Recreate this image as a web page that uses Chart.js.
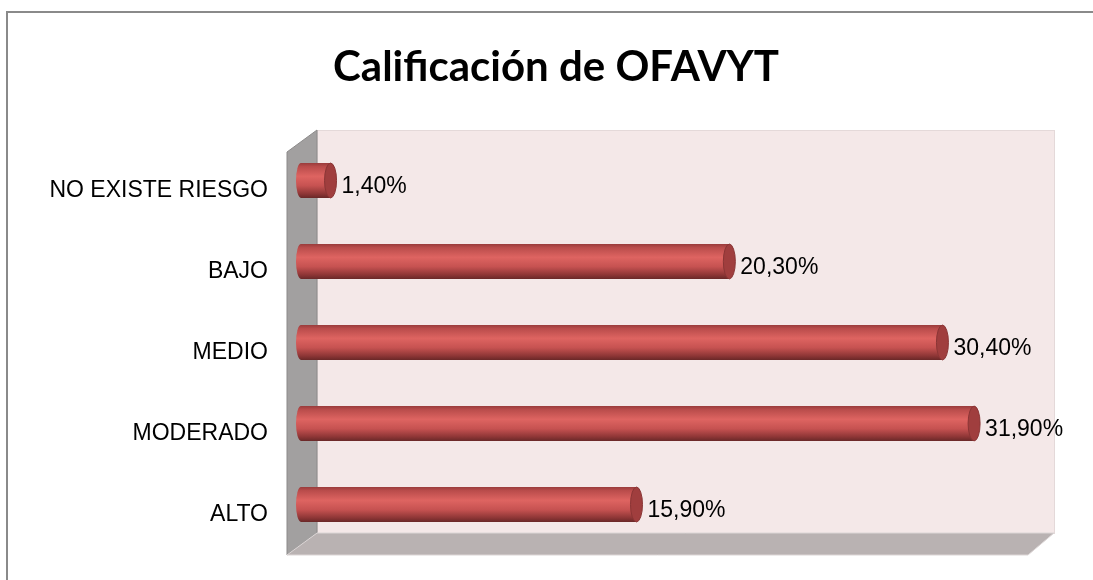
<!DOCTYPE html>
<html>
<head>
<meta charset="utf-8">
<script src="https://cdn.jsdelivr.net/npm/chart.js@4"></script>
<style>
  html, body { margin: 0; padding: 0; background: #fff; }
  #wrap { position: relative; width: 1093px; height: 580px; overflow: hidden; }
  canvas { display: block; }
  #title {
    position: absolute; left: 0; top: 40px; width: 1112px; height: 50px;
    line-height: 50px; text-align: center;
    font-family: Lato, "Open Sans", sans-serif; font-weight: bold; font-size: 42px; color: #000;
  }
</style>
</head>
<body>
<div id="wrap">
  <canvas id="chart" width="1093" height="580"></canvas>
  <div id="title"></div>
</div>
<script>
// Chart data
const categories = ['NO EXISTE RIESGO', 'BAJO', 'MEDIO', 'MODERADO', 'ALTO'];
const percentages = [1.4, 20.3, 30.4, 31.9, 15.9];
const chartTitle = 'Calificación de OFAVYT';

const BAR_PCT = 0.5, CAT_PCT = 0.86;

document.getElementById('title').textContent = chartTitle;

// format 20.3 -> "20,30%"
function formatPct(v) {
    return v.toFixed(2).replace('.', ',') + '%';
}

// Draws the outer frame and the 3D walls (back wall, left wall, floor)
const wallsPlugin = {
    id: 'walls',
    beforeDraw(chart) {
        const ctx = chart.ctx;
        const a = chart.chartArea;
        ctx.save();
        // outer frame
        ctx.strokeStyle = '#8a8a8a';
        ctx.lineWidth = 2;
        ctx.strokeRect(7, 12, 1200, 700);

        const frontL = a.left - 14, backL = a.left + 16;
        const backT = a.top - 10;
        const backB = a.bottom - 12, frontB = a.bottom + 10;
        const backR = a.right + 14.5, frontR = backR - 26;
        const dy = frontB - backB;

        // back wall
        ctx.fillStyle = '#f4e8e8';
        ctx.fillRect(backL, backT, backR - backL, backB - backT);
        ctx.strokeStyle = '#e4d9d9';
        ctx.lineWidth = 1;
        ctx.strokeRect(backL + 0.5, backT + 0.5, backR - backL, backB - backT);

        // left wall
        ctx.fillStyle = '#a2a0a0';
        ctx.beginPath();
        ctx.moveTo(frontL, backT + dy);
        ctx.lineTo(backL, backT);
        ctx.lineTo(backL, backB);
        ctx.lineTo(frontL, frontB);
        ctx.closePath();
        ctx.fill();
        ctx.strokeStyle = '#8c8a8a';
        ctx.stroke();

        // floor
        ctx.fillStyle = '#b9b2b2';
        ctx.beginPath();
        ctx.moveTo(frontL, frontB);
        ctx.lineTo(backL, backB);
        ctx.lineTo(backR, backB);
        ctx.lineTo(frontR, frontB);
        ctx.closePath();
        ctx.fill();
        ctx.strokeStyle = '#dcd6d6';
        ctx.stroke();
        ctx.restore();
    }
};

function cylGradient(ctx, top, bottom) {
    const g = ctx.createLinearGradient(0, top, 0, bottom);
    g.addColorStop(0, '#9a3c3c');
    g.addColorStop(0.1, '#b94c4b');
    g.addColorStop(0.38, '#de6461');
    g.addColorStop(0.65, '#c65251');
    g.addColorStop(0.88, '#8e3636');
    g.addColorStop(1, '#6a2828');
    return g;
}

// Gradient body + rounded ends of the cylinders, placed from the bar elements
const cylinderPlugin = {
    id: 'cylinder',
    beforeDatasetsDraw(chart) {
        const ctx = chart.ctx;
        chart.getDatasetMeta(0).data.forEach(bar => {
            const h = bar.height;
            const top = bar.y - h / 2;
            if (!isFinite(top) || !isFinite(h)) return;
            const grad = cylGradient(ctx, top, top + h);
            bar.options.backgroundColor = grad;
            ctx.save();
            ctx.fillStyle = grad;
            ctx.beginPath();
            ctx.ellipse(bar.base, bar.y, 5, h / 2, 0, 0, Math.PI * 2);
            ctx.fill();
            ctx.restore();
        });
    },
    afterDatasetsDraw(chart) {
        const ctx = chart.ctx;
        chart.getDatasetMeta(0).data.forEach((bar, i) => {
            const h = bar.height;
            ctx.save();
            ctx.fillStyle = '#a03e3e';
            ctx.strokeStyle = '#8a3535';
            ctx.lineWidth = 1;
            ctx.beginPath();
            ctx.ellipse(bar.x, bar.y, 6, h / 2, 0, 0, Math.PI * 2);
            ctx.fill();
            ctx.stroke();
            // value label
            ctx.fillStyle = '#000';
            ctx.font = '23px "Liberation Sans", Arial, sans-serif';
            ctx.textAlign = 'left';
            ctx.textBaseline = 'alphabetic';
            ctx.fillText(formatPct(percentages[i]), bar.x + 11, bar.y + 12.5);
            ctx.restore();
        });
    }
};

const ctx = document.getElementById('chart').getContext('2d');
new Chart(ctx, {
    type: 'bar',
    data: {
        labels: categories,
        datasets: [{
            data: percentages,
            // object per element (not shared) so the plugin can give each its own gradient
            backgroundColor: (c) => '#d05a58',
            borderWidth: 0,
            barPercentage: BAR_PCT,
            categoryPercentage: CAT_PCT
        }]
    },
    options: {
        indexAxis: 'y',
        responsive: false,
        animation: false,
        layout: { padding: { top: 140, right: 53.5, bottom: 35, left: 0 } },
        plugins: {
            legend: { display: false },
            tooltip: { enabled: false },
            title: { display: false }
        },
        scales: {
            x: {
                display: false,
                min: 0,
                max: 35
            },
            y: {
                grid: { display: false, drawTicks: false },
                border: { display: false },
                afterFit(scale) {
                    scale.width = 301;
                    scale.paddingTop = 0;
                    scale.paddingBottom = 0;
                },
                ticks: {
                    color: '#000',
                    padding: 33,
                    labelOffset: 10,
                    font: { family: '"Liberation Sans", Arial, sans-serif', size: 23 }
                }
            }
        }
    },
    plugins: [wallsPlugin, cylinderPlugin]
});
</script>
</body>
</html>
